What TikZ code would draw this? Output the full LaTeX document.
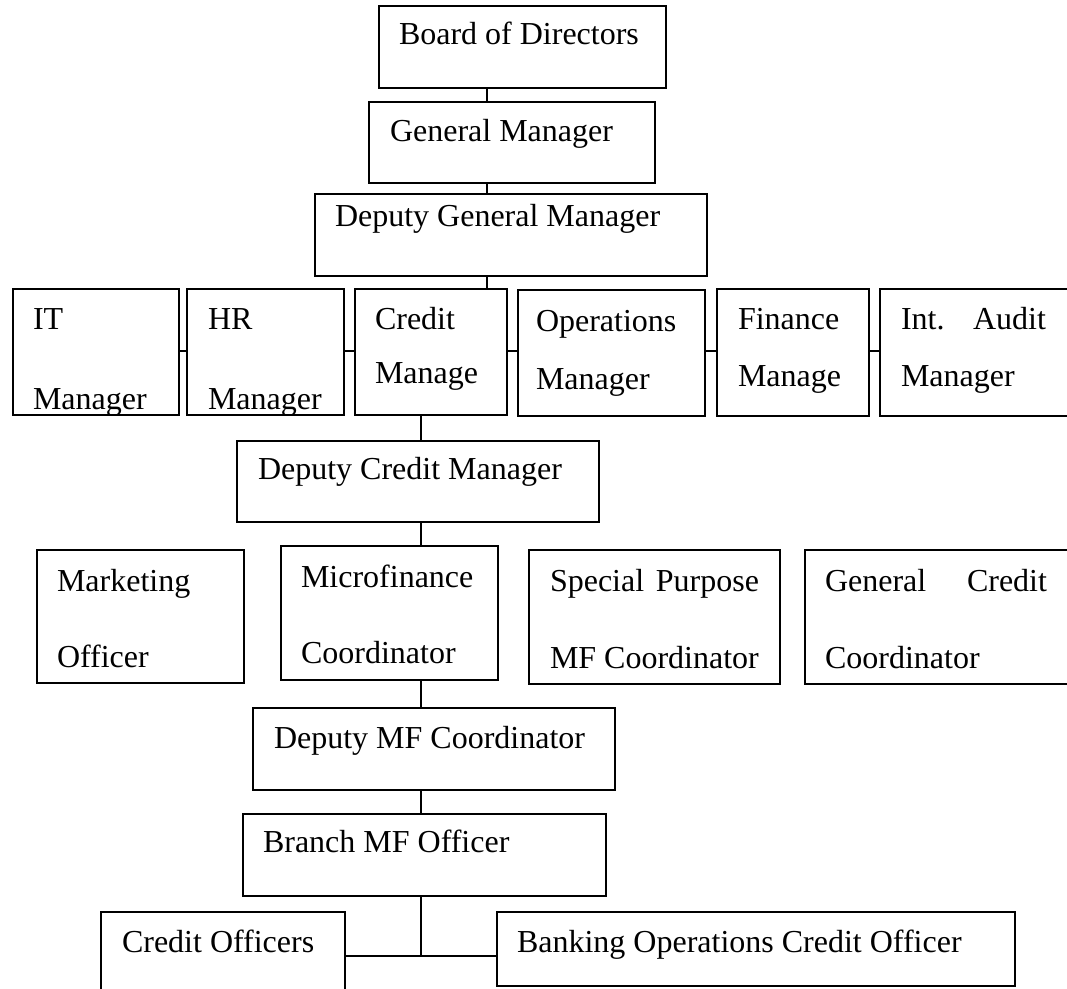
\documentclass[tikz,border=0pt]{standalone}
\usepackage{fontspec}
\setmainfont{Liberation Serif}

\begin{document}
\begin{tikzpicture}[x=0.5pt,y=-0.5pt,line width=1pt,
                       box/.style={draw,rectangle,anchor=north west,inner sep=0pt,outer sep=0pt},
                       wh/.style 2 args={minimum width=#1*0.5pt,minimum height=#2*0.5pt},
                       txt/.style={anchor=base west,inner sep=0pt,outer sep=0pt,
                                   font=\fontsize{16}{19}\selectfont}
                      ]
   \useasboundingbox (0,0) rectangle (1067,989);

   % boxes
   \node[box,wh={287}{82}]  (bod) at (379,6) {};
   \node[box,wh={286}{81}]  (gm)  at (369,102) {};
   \node[box,wh={392}{82}]  (dgm) at (315,194) {};
   \node[box,wh={166}{126}] (itm) at (13,289) {};
   \node[box,wh={157}{126}] (hrm) at (187,289) {};
   \node[box,wh={152}{126}] (crm) at (355,289) {};
   \node[box,wh={187}{126}] (opm) at (518,290) {};
   \node[box,wh={152}{127}] (fnm) at (717,289) {};
   \node[box,wh={200}{127}] (aum) at (880,289) {};
   \node[box,wh={362}{81}]  (dcm) at (237,441) {};
   \node[box,wh={207}{133}] (mko) at (37,550) {};
   \node[box,wh={217}{134}] (mfc) at (281,546) {};
   \node[box,wh={251}{134}] (spc) at (529,550) {};
   \node[box,wh={270}{134}] (gcc) at (805,550) {};
   \node[box,wh={362}{82}]  (dmf) at (253,708) {};
   \node[box,wh={363}{82}]  (bmf) at (243,814) {};
   \node[box,wh={244}{100}] (cro) at (101,912) {};
   \node[box,wh={518}{74}]  (bnk) at (497,912) {};

   % texts
   \node[txt] (bod-t) at (399,45) {Board of Directors};
   \node[txt] (gm-t) at (390,142) {General Manager};
   \node[txt] (dgm-t) at (335,227) {Deputy General Manager};
   \node[txt] (itm-t) at (33,330) {IT};
   \node[txt] (hrm-t) at (208,330) {HR};
   \begin{scope}
     \clip (itm.south west) rectangle (itm.north east);
     \node[txt] (itm-b) at (33,410) {Manager};
   \end{scope}
   \begin{scope}
     \clip (hrm.south west) rectangle (hrm.north east);
     \node[txt] (hrm-b) at (208,410) {Manager};
   \end{scope}
   \node[txt] (crm-t) at (375,330) {Credit};
   \node[txt] (crm-b) at (375,384) {Manage};
   \node[txt] (opm-t) at (536,332) {Operations};
   \node[txt] (opm-b) at (536,390) {Manager};
   \node[txt] (fnm-t) at (738,330) {Finance};
   \node[txt] (fnm-b) at (738,387) {Manage};
   \node[txt] (aum-t) at (901,330) {\makebox[72.5pt][s]{Int. Audit}};
   \node[txt] (aum-b) at (901,387) {Manager};
   \node[txt] (dcm-t) at (258,480) {Deputy Credit Manager};
   \node[txt] (mko-t) at (57,592) {Marketing};
   \node[txt] (mko-b) at (57,668) {Officer};
   \node[txt] (mfc-t) at (301,588) {Microfinance};
   \node[txt] (mfc-b) at (301,664) {Coordinator};
   \node[txt] (spc-t) at (550,592) {\makebox[104.5pt][s]{Special Purpose}};
   \node[txt] (spc-b) at (550,669) {MF Coordinator};
   \node[txt] (gcc-t) at (825,592) {\makebox[111pt][s]{General Credit}};
   \node[txt] (gcc-b) at (825,669) {Coordinator};
   \node[txt] (dmf-t) at (274,748) {Deputy MF Coordinator};
   \node[txt] (bmf-t) at (263,853) {Branch MF Officer};
   \node[txt] (cro-t) at (122,952) {Credit Officers};
   \node[txt] (bnk-t) at (517,952) {Banking Operations Credit Officer};

   % connectors
   \coordinate (topline) at (487,0);
   \coordinate (midline) at (421,0);
   \coordinate (rowline) at (0,351);
   \coordinate (tee) at (421,956);

   \path%
    (bod.south -| topline) edge (gm.north -| topline)
    (gm.south -| topline) edge (dgm.north -| topline)
    (dgm.south -| topline) edge (crm.north -| topline)
    (crm.south -| midline) edge (dcm.north -| midline)
    (dcm.south -| midline) edge (mfc.north -| midline)
    (mfc.south -| midline) edge (dmf.north -| midline)
    (dmf.south -| midline) edge (bmf.north -| midline)
    (bmf.south -| midline) edge (tee)
    (cro.east |- tee) edge (bnk.west |- tee);

   \foreach \a/\b in {itm/hrm,hrm/crm,crm/opm,opm/fnm,fnm/aum}
     \draw (\a.east |- rowline) -- (\b.west |- rowline);
  \end{tikzpicture}
\end{document}
